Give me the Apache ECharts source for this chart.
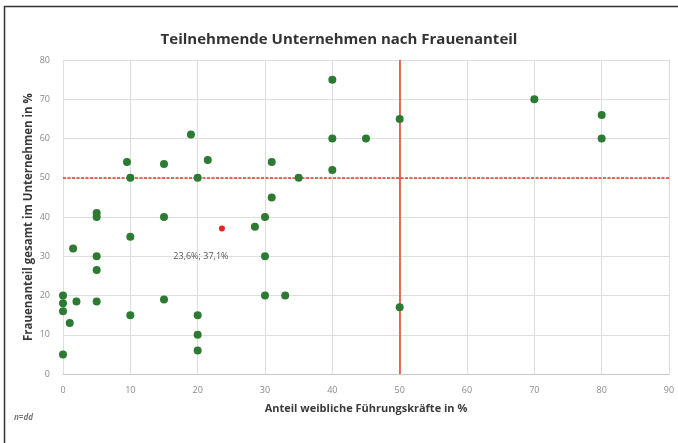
<!DOCTYPE html>
<html>
<head>
<meta charset="utf-8">
<script src="https://cdn.jsdelivr.net/npm/echarts@6/dist/echarts.min.js"></script>
<style>
html,body{margin:0;padding:0;background:#fff;}
#chart{width:678px;height:443px;}
</style>
</head>
<body>
<div id="chart"></div>
<script>
// Data
const xValues = [0, 0, 0, 0, 1, 1.5, 2, 5, 5, 5, 5, 5, 9.5, 10, 10, 10, 15, 15, 15, 19, 20, 20, 20, 20, 21.5, 28.5, 30, 30, 30, 31, 31, 33, 35, 40, 40, 40, 45, 50, 50, 70, 80, 80];
const yValues = [20, 18, 16, 5, 13, 32, 18.5, 41, 40, 30, 26.5, 18.5, 54, 50, 35, 15, 53.5, 40, 19, 61, 50, 15, 10, 6, 54.5, 37.5, 40, 30, 20, 54, 45, 20, 50, 75, 60, 52, 60, 65, 17, 70, 66, 60];
const meanPoint = [23.6, 37.1];
const thresholdX = 50;
const thresholdY = 50;
const xTicks = [0, 10, 20, 30, 40, 50, 60, 70, 80, 90];
const yTicks = [0, 10, 20, 30, 40, 50, 60, 70, 80];

const titleText = 'Teilnehmende Unternehmen nach Frauenanteil';
const xName = 'Anteil weibliche Führungskräfte in %';
const yName = 'Frauenanteil gesamt im Unternehmen in %';
const noteText = 'n=dd';

const points = xValues.map((x, i) => [x, yValues[i]]);
const fmt = v => v.toFixed(1).replace('.', ',') + '%';
const meanLabel = fmt(meanPoint[0]) + '; ' + fmt(meanPoint[1]);

const chart = echarts.init(document.getElementById('chart'), null, {renderer: 'canvas'});
const font = '"Open Sans", sans-serif';

chart.setOption({
  animation: false,
  backgroundColor: '#fff',
  title: {
    text: titleText,
    left: 'center',
    top: 27,
    textStyle: {fontFamily: font, fontSize: 15, fontWeight: 'bold', color: '#333'}
  },
  grid: {left: 63, right: 9, top: 60, bottom: 69, containLabel: false},
  xAxis: {
    type: 'value',
    min: xTicks[0],
    max: xTicks[xTicks.length - 1],
    interval: xTicks[1] - xTicks[0],
    name: xName,
    nameLocation: 'middle',
    nameGap: 29,
    nameMoveOverlap: false,
    nameTextStyle: {fontFamily: font, fontSize: 11, fontWeight: 'bold', color: '#3a3a3a'},
    axisLine: {show: true, lineStyle: {color: '#c8c8c8', width: 1}},
    axisTick: {show: false},
    axisLabel: {margin: 12, fontFamily: font, fontSize: 9, color: '#8a8a8a'},
    splitLine: {show: true, lineStyle: {color: '#dedede', width: 1}}
  },
  yAxis: {
    type: 'value',
    min: yTicks[0],
    max: yTicks[yTicks.length - 1],
    interval: yTicks[1] - yTicks[0],
    name: yName,
    nameLocation: 'middle',
    nameGap: 28,
    nameMoveOverlap: false,
    nameTextStyle: {fontFamily: font, fontSize: 11.5, fontWeight: 'bold', color: '#3a3a3a'},
    axisLine: {show: true, lineStyle: {color: '#dedede', width: 1}},
    axisTick: {show: false},
    axisLabel: {margin: 13, fontFamily: font, fontSize: 9, color: '#8a8a8a'},
    splitLine: {show: true, lineStyle: {color: '#dedede', width: 1}}
  },
  graphic: [
    {
      type: 'rect',
      shape: {x: 4.5, y: 6.5, width: 800, height: 600},
      style: {fill: 'none', stroke: '#333', lineWidth: 1.5},
      silent: true
    },
    {
      type: 'text',
      left: 14,
      top: 414,
      style: {text: noteText, fontFamily: font, fontSize: 8, fontStyle: 'italic', fontWeight: 'bold', fill: '#777'}
    }
  ],
  series: [
    {
      type: 'scatter',
      data: points,
      symbol: 'circle',
      symbolSize: 8,
      itemStyle: {color: '#2d7a33', opacity: 1},
      z: 3,
      markLine: {
        silent: true,
        symbol: 'none',
        label: {show: false},
        lineStyle: {color: '#e23b2c', opacity: 1},
        data: [
          {yAxis: thresholdY, lineStyle: {color: '#e23b2c', width: 1.5, type: [3, 1.5], opacity: 1}},
          {xAxis: thresholdX, lineStyle: {color: '#e23b2c', width: 1.5, type: 'solid', opacity: 1}}
        ],
        z: 2
      }
    },
    {
      type: 'scatter',
      data: [meanPoint],
      symbol: 'circle',
      symbolSize: 6,
      itemStyle: {color: '#e3241c', opacity: 1},
      z: 4,
      label: {
        show: true,
        position: 'inside',
        offset: [-21, 28],
        formatter: meanLabel,
        fontFamily: font,
        fontSize: 9,
        color: '#555'
      }
    }
  ]
});
</script>
</body>
</html>
